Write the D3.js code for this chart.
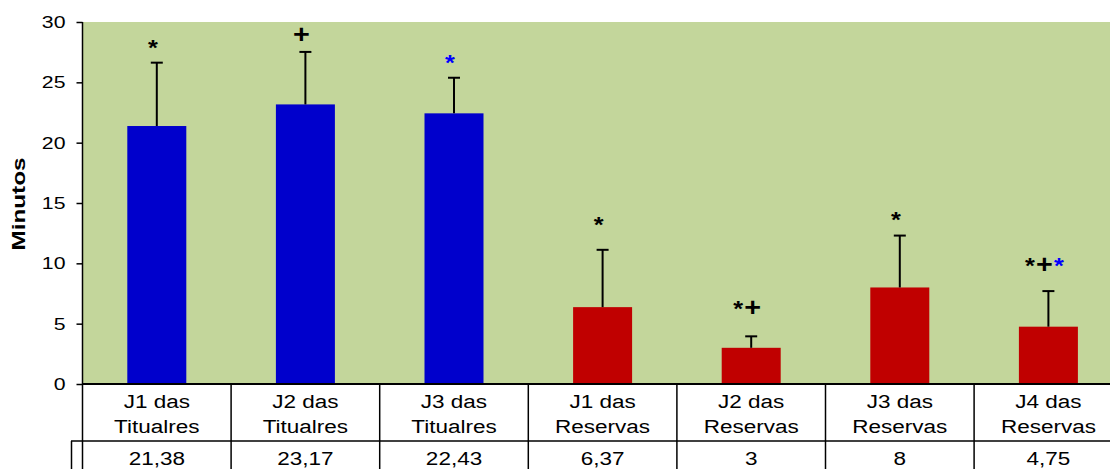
<!DOCTYPE html>
<html>
<head>
<meta charset="utf-8">
<script src="https://cdn.jsdelivr.net/npm/d3@7/dist/d3.min.js"></script>
<style>
  body { margin: 0; background: #ffffff; }
  svg { display: block; font-family: "Liberation Sans", Arial, sans-serif; }
</style>
</head>
<body>
<svg id="chart" width="1110" height="469"></svg>
<script>
// chart data
const categories = ['J1 das Titualres', 'J2 das Titualres', 'J3 das Titualres',
  'J1 das Reservas', 'J2 das Reservas', 'J3 das Reservas', 'J4 das Reservas'];
const groups = ['T', 'T', 'T', 'R', 'R', 'R', 'R'];
const means = [21.38, 23.17, 22.43, 6.37, 3, 8, 4.75];
const deviations = [5.25, 4.35, 2.95, 4.75, 0.95, 4.3, 2.95];
// significance marks: text pieces per bar, and the height (minutes) of their baseline
const marks = [
  [['*', 'k']],
  [['+', 'k']],
  [['*', 'b']],
  [['*', 'k']],
  [['*', 'k'], ['+', 'k']],
  [['*', 'k']],
  [['*', 'k'], ['+', 'k'], ['*', 'b']]
];
const markLevels = [27.3, 28.3, 26.0, 12.6, 5.6, 13.0, 9.2];
const yTicks = [0, 5, 10, 15, 20, 25, 30];

const svg = d3.select('#chart');
const stretch = 1.25;          // the picture is drawn wider than tall
const plotTop = 22, plotBottom = 384;
const plotLeft = 82.5, step = 148.6;

const x = d3.scaleBand()
  .domain(categories)
  .range([plotLeft, plotLeft + step * categories.length]);

const y = d3.scaleLinear()
  .domain([0, 30])
  .range([plotBottom, plotTop]);

const colors = { T: '#0000cc', R: '#c00000' };
const markColors = { k: '#000000', b: '#0000ff' };

// plot background
svg.append('rect')
  .attr('x', plotLeft).attr('y', plotTop)
  .attr('width', 1110 - plotLeft).attr('height', plotBottom - plotTop)
  .attr('fill', '#c3d69b');

// bars
const barW = 59;
svg.selectAll('.bar')
  .data(categories)
  .enter().append('rect')
    .attr('class', 'bar')
    .attr('x', d => x(d) + x.bandwidth() / 2 - barW / 2)
    .attr('width', barW)
    .attr('y', (d, i) => y(means[i]))
    .attr('height', (d, i) => y(0) - y(means[i]))
    .attr('fill', (d, i) => colors[groups[i]]);

// error bars (upper only)
const err = svg.append('g').attr('stroke', '#000').attr('stroke-width', 2);
categories.forEach((c, i) => {
  const cx = x(c) + x.bandwidth() / 2;
  err.append('line')
    .attr('x1', cx).attr('x2', cx)
    .attr('y1', y(means[i])).attr('y2', y(means[i] + deviations[i]));
  err.append('line')
    .attr('x1', cx - 6).attr('x2', cx + 6)
    .attr('y1', y(means[i] + deviations[i])).attr('y2', y(means[i] + deviations[i]));
});

// significance marks
categories.forEach((c, i) => {
  const cx = x(c) + x.bandwidth() / 2 - 4;
  const t = svg.append('text')
    .attr('transform', `translate(${cx},${y(markLevels[i])}) scale(1.15,1)`)
    .attr('text-anchor', 'middle')
    .attr('font-weight', 'bold');
  marks[i].forEach((m, j) => {
    t.append('tspan')
      .attr('fill', markColors[m[1]])
      .attr('font-size', m[0] === '+' ? '25px' : '22px')
      .attr('dx', j > 0 ? 1 : 0)
      .text(m[0]);
  });
});

// y axis
const yAxis = svg.append('g')
  .attr('transform', `translate(${plotLeft},0)`)
  .call(d3.axisLeft(y).tickValues(yTicks).tickSize(6).tickPadding(10));
yAxis.select('.domain').remove();
yAxis.selectAll('line').attr('stroke', '#000').attr('stroke-width', 1.5);
yAxis.selectAll('text')
  .attr('font-size', '17px')
  .attr('fill', '#000')
  .attr('font-family', '"Liberation Sans", Arial, sans-serif')
  .attr('transform', `scale(${stretch},1)`)
  .attr('x', -17 / stretch);

// axis line runs down through the table
svg.append('line')
  .attr('x1', plotLeft).attr('x2', plotLeft)
  .attr('y1', plotTop).attr('y2', 469)
  .attr('stroke', '#000').attr('stroke-width', 1.5);

// x axis line
svg.append('line')
  .attr('x1', plotLeft).attr('x2', 1110)
  .attr('y1', plotBottom).attr('y2', plotBottom)
  .attr('stroke', '#000').attr('stroke-width', 2);

// data table
const table = svg.append('g').attr('stroke', '#000').attr('stroke-width', 1.5);
categories.forEach((c, i) => {
  if (i === 0) return;
  table.append('line')
    .attr('x1', x(c)).attr('x2', x(c))
    .attr('y1', plotBottom).attr('y2', 469);
});
table.append('line')
  .attr('x1', 71).attr('x2', 1110)
  .attr('y1', 441).attr('y2', 441);
table.append('line')
  .attr('x1', 71.5).attr('x2', 71.5)
  .attr('y1', 441).attr('y2', 469);

function stretchedText(txt, cx, cy, size) {
  svg.append('text')
    .attr('transform', `translate(${cx},${cy}) scale(${stretch},1)`)
    .attr('text-anchor', 'middle')
    .attr('font-size', size)
    .attr('fill', '#000')
    .text(txt);
}

categories.forEach((c, i) => {
  const cx = x(c) + x.bandwidth() / 2;
  const parts = c.match(/^(\S+ das) (.+)$/);
  stretchedText(parts[1], cx, 408, '18px');
  stretchedText(parts[2], cx, 433, '18px');
  stretchedText(String(means[i]).replace('.', ','), cx, 465, '18px');
});

// y axis title
svg.append('text')
  .attr('transform', 'translate(25,204) rotate(-90) scale(1.35,1)')
  .attr('text-anchor', 'middle')
  .attr('font-size', '18px')
  .attr('font-weight', 'bold')
  .text('Minutos');
</script>
</body>
</html>
